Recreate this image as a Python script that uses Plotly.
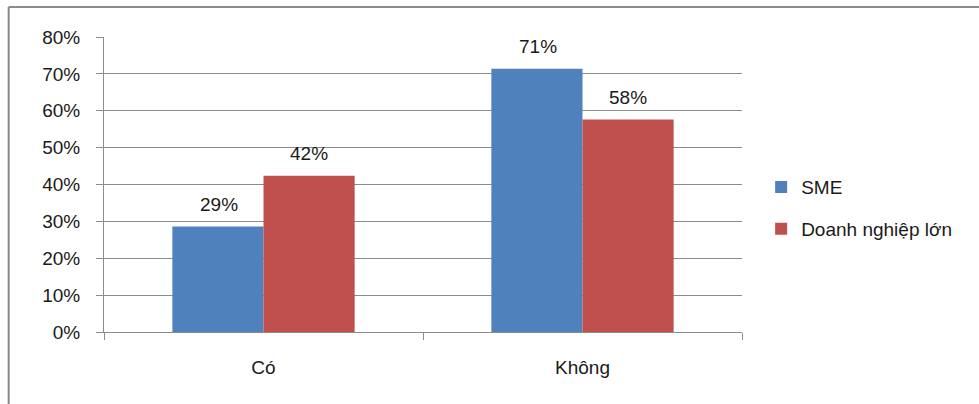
import plotly.graph_objects as go

categories = ["Có", "Không"]
sme_values = [0.286, 0.714]
large_values = [0.424, 0.576]
y_tick_values = [0, 0.1, 0.2, 0.3, 0.4, 0.5, 0.6, 0.7, 0.8]
y_tick_labels = ["0%", "10%", "20%", "30%", "40%", "50%", "60%", "70%", "80%"]

FONT = "Liberation Sans, Arial, sans-serif"
GRID = "#8c8c8c"
TEXT = "#1a1a1a"

fig = go.Figure()
fig.add_trace(go.Bar(
    name="SME", x=categories, y=sme_values, legendgroup="a",
    marker=dict(color="#4F81BD", line=dict(width=0)),
))
fig.add_trace(go.Bar(
    name="Doanh nghiệp lớn", x=categories, y=large_values, legendgroup="b",
    marker=dict(color="#C0504D", line=dict(width=0)),
))

# value labels above each bar, offset to the bar's slot within its group
annotations = []
for values, dx in ((sme_values, -45), (large_values, 45)):
    for cat, v in zip(categories, values):
        annotations.append(dict(
            x=cat, y=v, xref="x", yref="y", text=f"{v:.0%}", showarrow=False,
            xshift=dx, yanchor="bottom", yshift=10,
            font=dict(size=19, color=TEXT, family=FONT),
        ))

fig.update_layout(
    width=979, height=404,
    margin=dict(l=104, r=237, t=37, b=72),
    paper_bgcolor="white", plot_bgcolor="white",
    barmode="group", bargap=0.4286, bargroupgap=0,
    font=dict(family=FONT, size=19, color=TEXT),
    showlegend=True,
    legend=dict(
        x=1.03, xanchor="left", y=0.42, yanchor="middle",
        traceorder="grouped", tracegroupgap=14,
        font=dict(size=19, family=FONT, color=TEXT),
        itemwidth=30, bgcolor="rgba(0,0,0,0)",
    ),
    xaxis=dict(
        type="category", showgrid=False, showline=True, linecolor=GRID, linewidth=1,
        ticks="outside", tickson="boundaries", ticklen=7, tickcolor=GRID,
        tickfont=dict(size=19), zeroline=False, ticklabelstandoff=18,
    ),
    yaxis=dict(
        range=[0, 0.8], tickvals=y_tick_values, ticktext=y_tick_labels,
        showgrid=True, gridcolor=GRID, gridwidth=1,
        showline=True, linecolor=GRID, linewidth=1,
        ticks="outside", ticklen=7, tickcolor=GRID,
        tickfont=dict(size=19), zeroline=False, ticklabelstandoff=12,
    ),
    annotations=annotations,
    shapes=[
        dict(type="line", xref="paper", yref="paper",
             x0=-0.1494, x1=1.5, y0=1.1017, y1=1.1017,
             line=dict(color="#8a8a8a", width=2)),
        dict(type="line", xref="paper", yref="paper",
             x0=-0.1494, x1=-0.1494, y0=-0.3, y1=1.1017,
             line=dict(color="#8a8a8a", width=2)),
    ],
)

fig.write_html("out.html")
